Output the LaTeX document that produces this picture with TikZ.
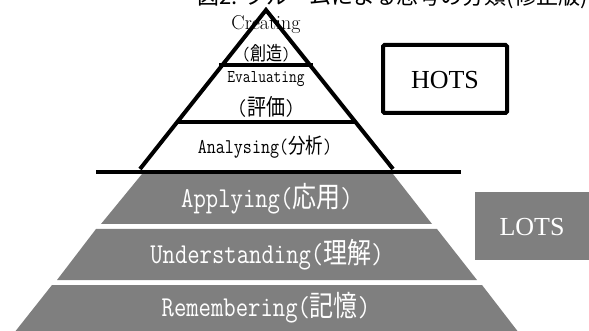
\documentclass[tikz,border=0pt]{standalone}
\usepackage{graphicx}
\usepackage{fontspec}
\newfontfamily\cjk{Noto Sans CJK JP}
\newfontfamily\timesf{Liberation Serif}
\newcommand\jp[1]{{\cjk #1}}
\newcommand\tall[1]{\scalebox{1}[1.2]{#1}}
\definecolor{pgray}{HTML}{7F7F7F}
\begin{document}
\begin{tikzpicture}[x=1pt,y=-1pt,
  band/.style={fill=pgray,draw=none},
  wlbl/.style={inner sep=0pt,text=white,font=\ttfamily\fontsize{24}{26}\selectfont},
  blbl/.style={inner sep=0pt,text=black},
  outline/.style={line width=4pt,line join=miter,draw=black},
  sep/.style={line width=3.5pt,draw=black},
  lvlbox/.style={inner sep=0pt,font=\timesf\fontsize{26}{28}\selectfont}]
\useasboundingbox (0,0) rectangle (589,331);
% title (cut at top)
\node[anchor=base west,inner sep=0pt,font=\cjk\fontsize{22}{23}\selectfont] (title) at (197,4.5) {図2: ブルームによる思考の分類(修正版)};
% lower grey bands
\path[band] (142,174) -- (393,174) -- (432,224) -- (101,224) -- cycle;
\path[band] (96,229) -- (437,229) -- (477,280) -- (57,280) -- cycle;
\path[band] (52,285) -- (482,285) -- (519,333) -- (14,333) -- cycle;
\node[wlbl] (apply) at (267,199) {\tall{Applying(\jp{応用})}};
\node[wlbl] (under) at (267,255) {\tall{Understanding(\jp{理解})}};
\node[wlbl] (remem) at (266,308) {\tall{Remembering(\jp{記憶})}};
% upper pyramid
\coordinate (apex) at (266,10);
\coordinate (bl) at (140,169);
\coordinate (br) at (393,169);
\draw[outline] (bl) -- (apex) -- (br);
\coordinate (l1a) at (219,65); \coordinate (l1b) at (313,65);
\coordinate (l2a) at (178,122); \coordinate (l2b) at (355,122);
\draw[outline] (l1a) -- (l1b);
\draw[outline] (l2a) -- (l2b);
\coordinate (hl) at (96,172); \coordinate (hr) at (461,172);
\draw[sep] (hl) -- (hr);
\node[blbl,font=\rmfamily\fontsize{20}{21}\selectfont] (creat) at (266,25) {Creating};
\node[blbl,font=\ttfamily\fontsize{16}{18}\selectfont] (creatj) at (266,53) {\tall{(\jp{創造})}};
\node[blbl,font=\ttfamily\fontsize{15}{17}\selectfont] (evalu) at (266,79) {\tall{Evaluating}};
\node[blbl,font=\ttfamily\fontsize{19}{21}\selectfont] (evaluj) at (266,107) {\tall{(\jp{評価})}};
\node[blbl,font=\ttfamily\fontsize{17.5}{19}\selectfont] (anal) at (265,147) {\tall{Analysing(\jp{分析})}};
% HOTS / LOTS
\draw[line width=4pt,rounded corners=1.5pt] (383,45) rectangle (507,113);
\node[lvlbox] (hots) at (445,80) {HOTS};
\fill[pgray] (475,192) rectangle (592,260);
\node[lvlbox,text=white] (lots) at (532,227) {LOTS};
\end{tikzpicture}
\end{document}
